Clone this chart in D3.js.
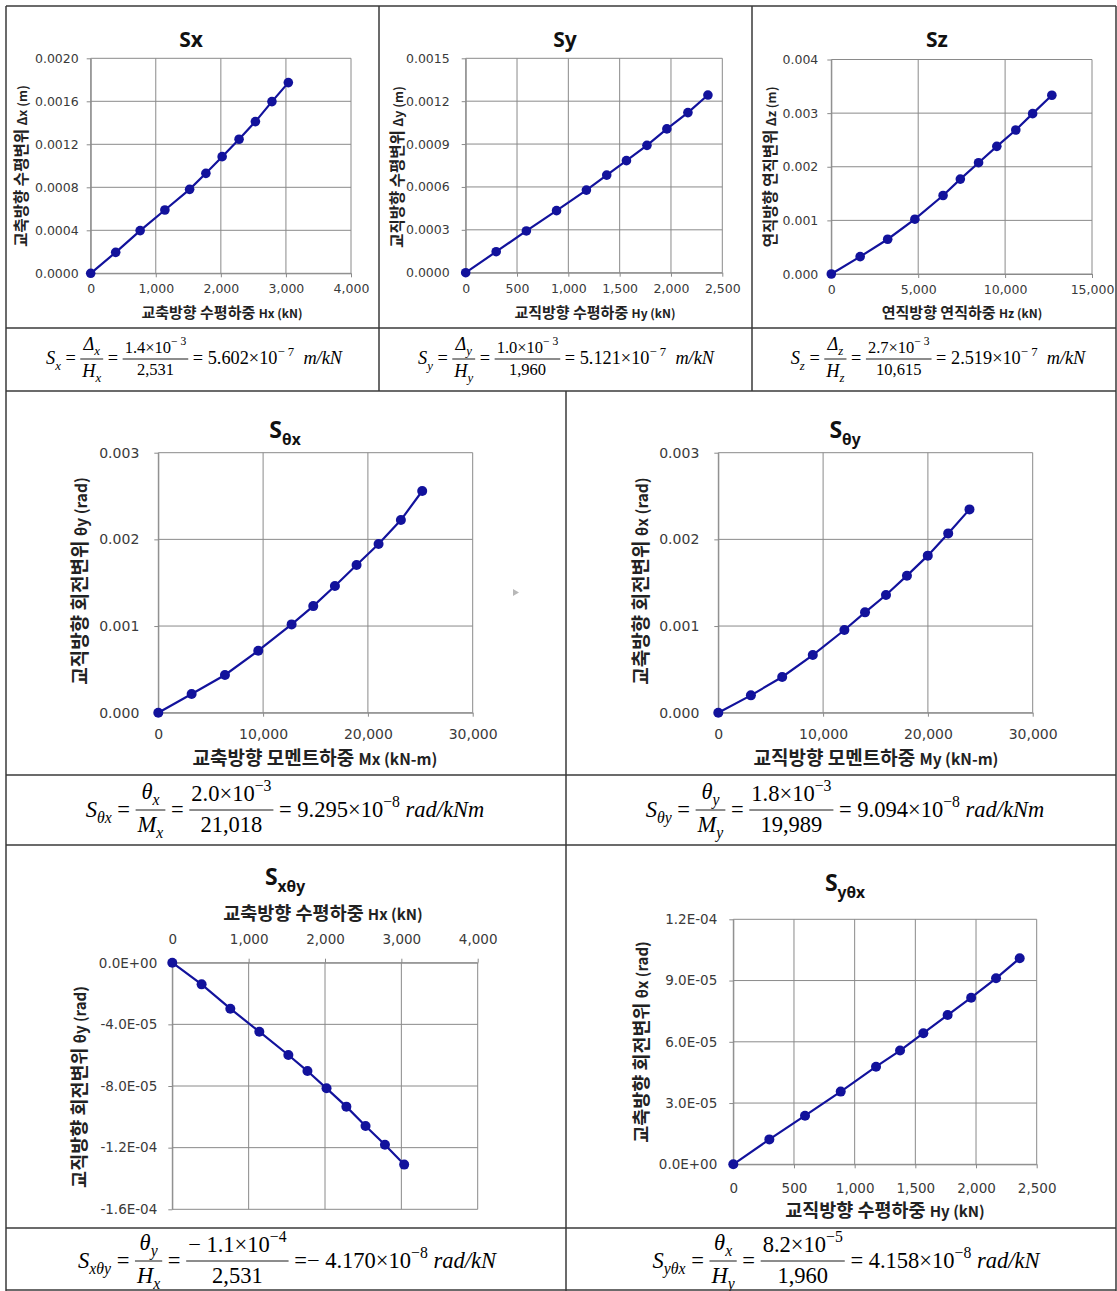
<!DOCTYPE html>
<html><head><meta charset="utf-8">
<script src="https://cdn.jsdelivr.net/npm/d3@7"></script>
<style>body{margin:0;background:#fff} svg{display:block} text{white-space:pre}</style>
</head><body>
<svg id="c" width="1117" height="1291"></svg>
<script>
// ---------------- DATA ----------------
const hxLoad = [0, 384, 760, 1140, 1520, 1770, 2020, 2280, 2531, 2785, 3037];
const dxDisp = [0, 0.000195, 0.000397, 0.000589, 0.000781, 0.00093, 0.001085, 0.001247, 0.001411, 0.001597, 0.001774];
const hyLoad = [0, 297, 591, 885, 1176, 1374, 1566, 1766, 1960, 2165, 2360];
const dyDisp = [0, 0.000147, 0.000292, 0.000434, 0.000578, 0.000683, 0.000784, 0.000891, 0.001006, 0.00112, 0.001243];
const hzLoad = [0, 1660, 3244, 4809, 6431, 7424, 8473, 9523, 10615, 11584, 12690];
const dzDisp = [0, 0.000324, 0.000648, 0.001022, 0.001464, 0.00177, 0.002075, 0.00238, 0.002685, 0.00299, 0.003333];
const mxLoad = [0, 3180, 6360, 9540, 12720, 14785, 16852, 18920, 21018, 23148, 25183];
const thyRot = [0, 0.000215, 0.000435, 0.000715, 0.001019, 0.00123, 0.001462, 0.001704, 0.001946, 0.002223, 0.002558];
const myLoad = [0, 3111, 6095, 9016, 12032, 14000, 16000, 18000, 19989, 21937, 23968];
const thxRot = [0, 0.0002, 0.000412, 0.000665, 0.000954, 0.001158, 0.001358, 0.001581, 0.001812, 0.002069, 0.002346];
const thyByHx = [0, -1.405e-5, -2.984e-5, -4.476e-5, -5.989e-5, -7.03e-5, -8.15e-5, -9.34e-5, -1.059e-4, -1.181e-4, -1.31e-4];
const thxByHy = [0, 1.22e-5, 2.38e-5, 3.56e-5, 4.78e-5, 5.57e-5, 6.42e-5, 7.31e-5, 8.16e-5, 9.11e-5, 1.009e-4];

// tick values
const ticksHx = [0, 1000, 2000, 3000, 4000];
const ticksHy = [0, 500, 1000, 1500, 2000, 2500];
const ticksHz = [0, 5000, 10000, 15000];
const ticksM = [0, 10000, 20000, 30000];
const ticksDx = [0, 0.0004, 0.0008, 0.0012, 0.0016, 0.002];
const ticksDy = [0, 0.0003, 0.0006, 0.0009, 0.0012, 0.0015];
const ticksDz = [0, 0.001, 0.002, 0.003, 0.004];
const ticksRot = [0, 0.001, 0.002, 0.003];
const ticksThyHx = [0, -4e-5, -8e-5, -1.2e-4, -1.6e-4];
const ticksThxHy = [0, 3e-5, 6e-5, 9e-5, 1.2e-4];

// ---------------- HELPERS ----------------
const svg = d3.select('#c');
svg.append('rect').attr('width', 1117).attr('height', 1291).attr('fill', '#fff');

const comma = d3.format(',');
function expFmt(v) {
  if (Math.abs(v) < 1e-12) return '0.0E+00';
  const [m, e] = v.toExponential(1).split('e');
  const sign = e[0] === '-' ? '-' : '+';
  return m + 'E' + sign + String(Math.abs(+e)).padStart(2, '0');
}
const MARK = '#12129c';
const GRID = '#8a8a8a';
const KFONT = "'Noto Sans CJK KR', 'Noto Sans', sans-serif";
const TFONT = "'DejaVu Sans', sans-serif";

function axisTitle(g, t, rotate) {
  const txt = g.append('text')
    .attr('text-anchor', 'middle')
    .attr('font-family', KFONT).attr('font-weight', 700)
    .attr('fill', '#222')
    .attr('transform', rotate ? `translate(${t.x},${t.y}) rotate(-90)` : `translate(${t.x},${t.y})`);
  txt.append('tspan').attr('font-size', t.fs).text(t.k + ' ');
  txt.append('tspan').attr('font-size', t.lfs).text(t.l);
}

function drawChart(c) {
  const g = svg.append('g');
  const [x0, y0, x1, y1] = c.box;
  const xs = d3.scaleLinear().domain(c.xDom).range([x0, x1]);
  const ys = d3.scaleLinear().domain(c.yDom).range([y1, y0]);
  g.append('g').selectAll('line').data(c.xt).join('line')
    .attr('x1', d => xs(d)).attr('x2', d => xs(d)).attr('y1', y0).attr('y2', y1)
    .attr('stroke', GRID).attr('stroke-width', 1);
  g.append('g').selectAll('line').data(c.yt).join('line')
    .attr('y1', d => ys(d)).attr('y2', d => ys(d)).attr('x1', x0).attr('x2', x1)
    .attr('stroke', GRID).attr('stroke-width', 1);
  const ya = g.append('g').attr('transform', `translate(${x0},0)`)
    .call(d3.axisLeft(ys).tickValues(c.yt).tickFormat(c.yf).tickSize(4).tickSizeOuter(0).tickPadding(c.yPad));
  const xa = c.xTop
    ? g.append('g').attr('transform', `translate(0,${y0})`)
        .call(d3.axisTop(xs).tickValues(c.xt).tickFormat(comma).tickSize(4).tickSizeOuter(0).tickPadding(c.xPad))
    : g.append('g').attr('transform', `translate(0,${y1})`)
        .call(d3.axisBottom(xs).tickValues(c.xt).tickFormat(comma).tickSize(4).tickSizeOuter(0).tickPadding(c.xPad));
  [ya, xa].forEach(a => {
    a.select('.domain').attr('stroke', GRID);
    a.selectAll('.tick line').attr('stroke', GRID);
    a.selectAll('.tick text').attr('font-family', TFONT).attr('font-size', c.tfs).attr('fill', '#3a3a3a');
  });
  const pts = d3.zip(c.xv, c.yv);
  g.append('path').datum(pts)
    .attr('d', d3.line().x(d => xs(d[0])).y(d => ys(d[1])))
    .attr('fill', 'none').attr('stroke', MARK).attr('stroke-width', 2.2);
  g.append('g').selectAll('circle').data(pts).join('circle')
    .attr('cx', d => xs(d[0])).attr('cy', d => ys(d[1])).attr('r', c.r)
    .attr('fill', MARK);
  const tt = g.append('text').attr('x', c.title.x).attr('y', c.title.y)
    .attr('text-anchor', 'middle').attr('font-family', "'Noto Sans', sans-serif")
    .attr('font-weight', 700).attr('fill', '#111');
  tt.append('tspan').attr('font-size', c.title.fs).text(c.title.s);
  if (c.title.sub) tt.append('tspan').attr('font-size', c.title.fs * 0.68).attr('dy', c.title.fs * 0.3).text(c.title.sub);
  axisTitle(g, c.xTitle, false);
  axisTitle(g, c.yTitle, true);
}

// ---------------- CHARTS ----------------
const charts = [
  { xv: hxLoad, yv: dxDisp, xDom: [0, 4000], yDom: [0, 0.002], xt: ticksHx, yt: ticksDx, yf: d3.format('.4f'),
    box: [90.7, 58.3, 351, 273.3], tfs: 12.5, yPad: 8, xPad: 7, r: 4.8,
    title: { s: 'Sx', x: 191, y: 47, fs: 21 },
    xTitle: { k: '교축방향 수평하중', l: 'Hx (kN)', x: 222, y: 318, fs: 15, lfs: 12 },
    yTitle: { k: '교축방향 수평변위', l: 'Δx (m)', x: 27, y: 166, fs: 15.5, lfs: 12.5 } },
  { xv: hyLoad, yv: dyDisp, xDom: [0, 2500], yDom: [0, 0.0015], xt: ticksHy, yt: ticksDy, yf: d3.format('.4f'),
    box: [465.7, 58.3, 722.3, 272.7], tfs: 12.5, yPad: 12, xPad: 7, r: 4.8,
    title: { s: 'Sy', x: 565, y: 47, fs: 21 },
    xTitle: { k: '교직방향 수평하중', l: 'Hy (kN)', x: 595, y: 318, fs: 15, lfs: 12 },
    yTitle: { k: '교직방향 수평변위', l: 'Δy (m)', x: 403, y: 167, fs: 15.5, lfs: 12.5 } },
  { xv: hzLoad, yv: dzDisp, xDom: [0, 15000], yDom: [0, 0.004], xt: ticksHz, yt: ticksDz, yf: d3.format('.3f'),
    box: [831.3, 59.5, 1092, 274], tfs: 12.5, yPad: 9, xPad: 7, r: 4.8,
    title: { s: 'Sz', x: 937, y: 47, fs: 21 },
    xTitle: { k: '연직방향 연직하중', l: 'Hz (kN)', x: 962, y: 318, fs: 15, lfs: 12 },
    yTitle: { k: '연직방향 연직변위', l: 'Δz (m)', x: 776, y: 167, fs: 15.5, lfs: 12.5 } },
  { xv: mxLoad, yv: thyRot, xDom: [0, 30000], yDom: [0, 0.003], xt: ticksM, yt: ticksRot, yf: d3.format('.3f'),
    box: [158.3, 452.7, 472.7, 712.7], tfs: 14, yPad: 15, xPad: 12, r: 5,
    title: { s: 'S', sub: 'θx', x: 285, y: 438, fs: 23 },
    xTitle: { k: '교축방향 모멘트하중', l: 'Mx (kN-m)', x: 315, y: 765, fs: 19, lfs: 15.5 },
    yTitle: { k: '교직방향 회전변위', l: 'θy (rad)', x: 87, y: 581, fs: 19, lfs: 15.5 } },
  { xv: myLoad, yv: thxRot, xDom: [0, 30000], yDom: [0, 0.003], xt: ticksM, yt: ticksRot, yf: d3.format('.3f'),
    box: [718.3, 452.7, 1032.7, 712.7], tfs: 14, yPad: 15, xPad: 12, r: 5,
    title: { s: 'S', sub: 'θy', x: 845, y: 438, fs: 23 },
    xTitle: { k: '교직방향 모멘트하중', l: 'My (kN-m)', x: 876, y: 765, fs: 19, lfs: 15.5 },
    yTitle: { k: '교축방향 회전변위', l: 'θx (rad)', x: 648, y: 581, fs: 19, lfs: 15.5 } },
  { xv: hxLoad, yv: thyByHx, xDom: [0, 4000], yDom: [-1.6e-4, 0], xt: ticksHx, yt: ticksThyHx, yf: expFmt,
    box: [172.3, 962.7, 477.7, 1209.3], tfs: 13.5, yPad: 11, xPad: 15, r: 5, xTop: true,
    title: { s: 'S', sub: 'xθy', x: 285, y: 885, fs: 23 },
    xTitle: { k: '교축방향 수평하중', l: 'Hx (kN)', x: 323, y: 920, fs: 18.5, lfs: 15 },
    yTitle: { k: '교직방향 회전변위', l: 'θy (rad)', x: 86, y: 1087, fs: 18.5, lfs: 15 } },
  { xv: hyLoad, yv: thxByHy, xDom: [0, 2500], yDom: [0, 1.2e-4], xt: ticksHy, yt: ticksThxHy, yf: expFmt,
    box: [733.3, 919.3, 1036.7, 1164.3], tfs: 13.5, yPad: 12, xPad: 15, r: 5,
    title: { s: 'S', sub: 'yθx', x: 845, y: 891, fs: 23 },
    xTitle: { k: '교직방향 수평하중', l: 'Hy (kN)', x: 885, y: 1217, fs: 18.5, lfs: 15 },
    yTitle: { k: '교축방향 회전변위', l: 'θx (rad)', x: 648, y: 1042, fs: 18.5, lfs: 15 } }
];
charts.forEach(drawChart);

// small artifact triangle
svg.append('path').attr('d', 'M513,589 L519,592.5 L513,596 Z').attr('fill', '#b8b8b8');

// ---------------- TABLE FRAME ----------------
const frame = svg.append('g').attr('stroke', '#3a3a3a').attr('stroke-width', 1.5).attr('fill', 'none');
const hLines = [[6, 1116, 6], [6, 1116, 328], [6, 1116, 391], [6, 1116, 775], [6, 1116, 845], [6, 1116, 1228], [6, 1116, 1290]];
const vLines = [[6, 6, 1291], [1116, 6, 1291], [379, 6, 391], [752, 6, 391], [566, 391, 1291]];
hLines.forEach(([a, b, y]) => frame.append('line').attr('x1', a).attr('x2', b).attr('y1', y).attr('y2', y));
vLines.forEach(([x, a, b]) => frame.append('line').attr('x1', x).attr('x2', x).attr('y1', a).attr('y2', b));

// ---------------- FORMULAS ----------------
const I = s => ({ s, it: true });
const R = s => ({ s });
const Sb = s => ({ s, it: true, sub: true });
const Sp = s => ({ s, sup: true });

function drawFormula(cx, cy, fs, items) {
  const g = svg.append('g').attr('font-family', "'Liberation Serif', 'DejaVu Serif', serif").attr('fill', '#000');
  function run(parent, segs, x, base, size) {
    let cur = x;
    segs.forEach(seg => {
      const sz = (seg.sub || seg.sup) ? size * 0.7 : size;
      const dy = seg.sub ? size * 0.28 : seg.sup ? -size * 0.45 : 0;
      const t = parent.append('text').attr('x', cur).attr('y', base + dy)
        .attr('font-size', sz).attr('font-style', seg.it ? 'italic' : 'normal')
        .attr('xml:space', 'preserve').text(seg.s);
      cur += t.node().getComputedTextLength();
    });
    return cur - x;
  }
  let x = 0;
  const base = cy + fs * 0.3;
  items.forEach(it => {
    if (it.frac) {
      const nf = it.nfs || fs;
      const ng = g.append('g'), dg = g.append('g');
      const nw = run(ng, it.num, 0, cy - nf * (it.sym ? 0.5 : 0.38), nf);
      const dw = run(dg, it.den, 0, cy + nf * 0.98, nf);
      const w = Math.max(nw, dw) + 4;
      ng.attr('transform', `translate(${x + (w - nw) / 2},0)`);
      dg.attr('transform', `translate(${x + (w - dw) / 2},0)`);
      g.append('line').attr('x1', x).attr('x2', x + w).attr('y1', cy).attr('y2', cy)
        .attr('stroke', '#000').attr('stroke-width', 0.9);
      x += w;
    } else {
      x += run(g, it.run, x, base, fs);
    }
  });
  g.attr('transform', `translate(${cx - x / 2},0)`);
}

drawFormula(194, 359, 18.3, [
  { run: [I('S'), Sb('x'), R(' = ')] },
  { frac: true, sym: true, num: [I('Δ'), Sb('x')], den: [I('H'), Sb('x')] },
  { run: [R(' = ')] },
  { frac: true, nfs: 16.5, num: [R('1.4×10'), Sp('− 3')], den: [R('2,531')] },
  { run: [R(' = 5.602×10'), Sp('− 7'), I('  m/kN')] }
]);
drawFormula(566, 359, 18.3, [
  { run: [I('S'), Sb('y'), R(' = ')] },
  { frac: true, sym: true, num: [I('Δ'), Sb('y')], den: [I('H'), Sb('y')] },
  { run: [R(' = ')] },
  { frac: true, nfs: 16.5, num: [R('1.0×10'), Sp('− 3')], den: [R('1,960')] },
  { run: [R(' = 5.121×10'), Sp('− 7'), I('  m/kN')] }
]);
drawFormula(938, 359, 18.3, [
  { run: [I('S'), Sb('z'), R(' = ')] },
  { frac: true, sym: true, num: [I('Δ'), Sb('z')], den: [I('H'), Sb('z')] },
  { run: [R(' = ')] },
  { frac: true, nfs: 16.5, num: [R('2.7×10'), Sp('− 3')], den: [R('10,615')] },
  { run: [R(' = 2.519×10'), Sp('− 7'), I('  m/kN')] }
]);
drawFormula(285, 810, 22.5, [
  { run: [I('S'), Sb('θx'), R(' = ')] },
  { frac: true, sym: true, num: [I('θ'), Sb('x')], den: [I('M'), Sb('x')] },
  { run: [R(' = ')] },
  { frac: true, num: [R('2.0×10'), Sp('−3')], den: [R('21,018')] },
  { run: [R(' = 9.295×10'), Sp('−8'), I(' rad/kNm')] }
]);
drawFormula(845, 810, 22.5, [
  { run: [I('S'), Sb('θy'), R(' = ')] },
  { frac: true, sym: true, num: [I('θ'), Sb('y')], den: [I('M'), Sb('y')] },
  { run: [R(' = ')] },
  { frac: true, num: [R('1.8×10'), Sp('−3')], den: [R('19,989')] },
  { run: [R(' = 9.094×10'), Sp('−8'), I(' rad/kNm')] }
]);
drawFormula(287, 1261, 22.5, [
  { run: [I('S'), Sb('xθy'), R(' = ')] },
  { frac: true, sym: true, num: [I('θ'), Sb('y')], den: [I('H'), Sb('x')] },
  { run: [R(' = ')] },
  { frac: true, num: [R('− 1.1×10'), Sp('−4')], den: [R('2,531')] },
  { run: [R(' =− 4.170×10'), Sp('−8'), I(' rad/kN')] }
]);
drawFormula(846, 1261, 22.5, [
  { run: [I('S'), Sb('yθx'), R(' = ')] },
  { frac: true, sym: true, num: [I('θ'), Sb('x')], den: [I('H'), Sb('y')] },
  { run: [R(' = ')] },
  { frac: true, num: [R('8.2×10'), Sp('−5')], den: [R('1,960')] },
  { run: [R(' = 4.158×10'), Sp('−8'), I(' rad/kN')] }
]);
</script>
</body></html>
